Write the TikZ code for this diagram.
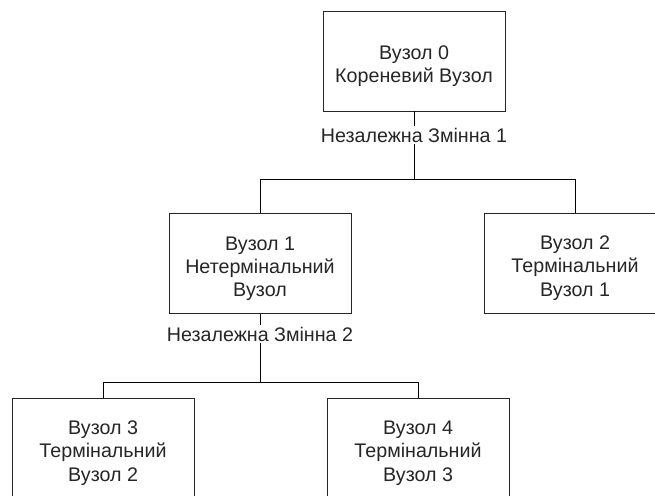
\documentclass[tikz,border=0pt]{standalone}
\usepackage{fontspec}
\setmainfont{Liberation Sans}
\usepackage{tikz}
\usetikzlibrary{arrows, positioning, calc, graphs}
\tikzset{
x=0.02cm, y=-0.02cm,
black!85,
text=black!85,
line width=0.8pt,
hv path/.style={to path={-| (\tikztotarget)}},
box/.style={%
    rectangle,
    minimum width=3.64cm,
    minimum height=2cm,
    align=center,
    draw=black!85,
    fill=white,
    % Font
    font=\fontsize{11.2}{13.3}\selectfont
},
varlabel/.style={%
    fill=white,inner sep=1pt,font=\fontsize{11.2}{13}\selectfont
},
junction/.style={circle,inner sep=0pt,minimum size=0pt},
}
% extra room over the first line, so the text sits a bit lower
\newcommand{\toproom}{\rule{0pt}{13.6pt}}

\begin{document}
\begin{tikzpicture}
	\clip (0,0) rectangle (655,496);
	\node[box] at (414,61) (root) {\toproom Вузол 0\\Кореневий Вузол};
	\node[box] at (260,263.5) (n1) {\toproom Вузол 1\\Нетермінальний\\Вузол};
	\node[box] at (575,263) (n2) {\toproom Вузол 2\\Термінальний\\Вузол 1};
	\node[box] at (103,448) (n3) {\toproom Вузол 3\\Термінальний\\Вузол 2};
	\node[box] at (418,448) (n4) {\toproom Вузол 4\\Термінальний\\Вузол 3};
	\node[junction] at (414,179) (j1) {};
	\node[junction] at (260,382) (j2) {};

	\graph [use existing nodes] {
	root -- j1;
	j1 --[hv path] n1;
	j1 --[hv path] n2;
	n1 -- j2;
	j2 --[hv path] n3;
	j2 --[hv path] n4;
	};

	\node[varlabel] at (414,135) (var1) {Незалежна Змінна 1};
	\node[varlabel] at (260,334) (var2) {Незалежна Змінна 2};

\end{tikzpicture}
\end{document}
